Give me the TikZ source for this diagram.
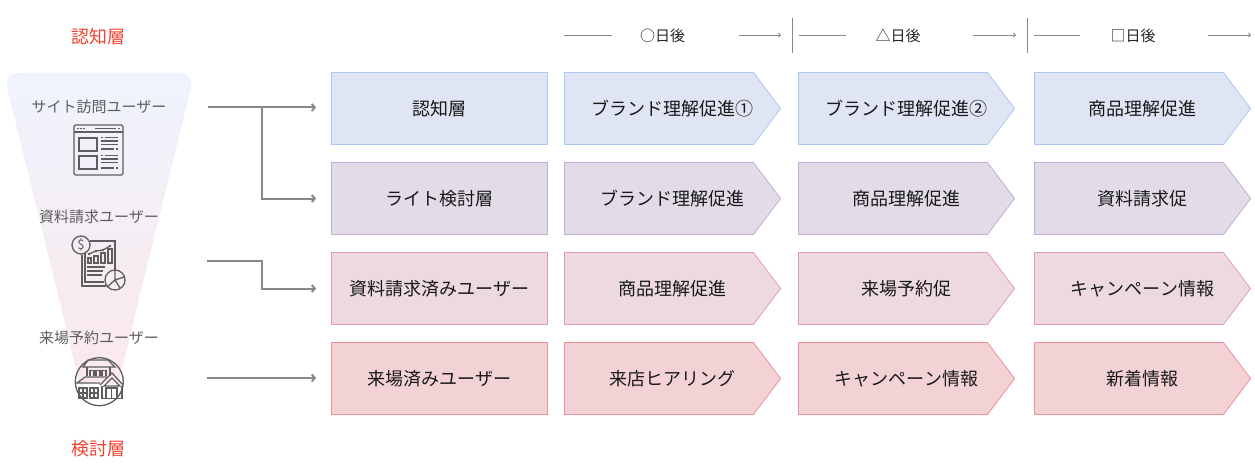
\documentclass[tikz,border=0pt]{standalone}
\usepackage{fontspec}
\setmainfont{Noto Sans CJK JP}
\usetikzlibrary{positioning,arrows.meta,shapes.symbols}

\definecolor{fillA}{HTML}{DFE5F3}
\definecolor{drawA}{HTML}{AEC6F6}
\definecolor{fillB}{HTML}{E2DCE8}
\definecolor{drawB}{HTML}{C3AED2}
\definecolor{fillC}{HTML}{ECDAE0}
\definecolor{drawC}{HTML}{E79DB0}
\definecolor{fillD}{HTML}{F3D2D6}
\definecolor{drawD}{HTML}{EE8F99}
\definecolor{funnelTop}{HTML}{EFF3FD}
\definecolor{funnelEnd}{HTML}{FBE8EB}
\definecolor{lineGray}{HTML}{888888}
\definecolor{iconGray}{HTML}{5E5E5E}
\definecolor{labelRed}{HTML}{EE4433}

\begin{document}
\begin{tikzpicture}[
		x=1pt, y=-1pt,
		plain/.style={rectangle, draw, line width=.8pt, minimum width=216pt, minimum height=72pt, inner sep=0pt, text centered, font=\fontsize{18}{20}\selectfont, text=black!90},
		tag/.style={signal, signal to=east, signal pointer angle=106, draw, line width=.8pt, minimum width=216pt, minimum height=72pt, inner sep=0pt, text centered, font=\fontsize{18}{20}\selectfont, text=black!90, execute at begin node=\hspace*{27pt}},
		rowA/.style={fill=fillA, draw=drawA},
		rowB/.style={fill=fillB, draw=drawB},
		rowC/.style={fill=fillC, draw=drawC},
		rowD/.style={fill=fillD, draw=drawD},
		layer/.style={text=labelRed, font=\fontsize{18}{20}\selectfont},
		user/.style={text=iconGray, font=\fontsize{15}{18}\selectfont},
		days/.style={text=black!85, font=\fontsize{15}{18}\selectfont},
		flow/.style={lineGray, line width=2pt, -{Straight Barb[length=3pt,width=7pt]}, shorten >=15pt},
		span/.style={lineGray, line width=.8pt},
		spanto/.style={span, -{Straight Barb[length=2pt,width=4pt]}},
		icon/.style={iconGray, line width=1.3pt}
]
\useasboundingbox (0,0) rectangle (1255,468);

% funnel
\shade [top color=funnelTop, bottom color=funnelEnd, rounded corners=15pt]
	(3.4,73) -- (194.7,73) -- (115,397) arc (0:-180:16) -- cycle;

\node [layer] (Top) at (98.5,36.5) {認知層};
\node [layer] (Bottom) at (98.5,449) {検討層};
\node [user] (UserA) at (99,107) {サイト訪問ユーザー};
\node [user] (UserB) at (99,217) {資料請求ユーザー};
\node [user] (UserC) at (99,338) {来場予約ユーザー};

% header
\node [days] (DayA) at (662.5,36) {○日後};
\node [days] (DayB) at (898,36) {△日後};
\node [days] (DayC) at (1133,36) {□日後};
\coordinate (StartA) at (564,35);
\coordinate (EndA) at (781,35);
\coordinate (StartB) at (799,35);
\coordinate (EndB) at (1016,35);
\coordinate (StartC) at (1034,35);
\coordinate (EndC) at (1251,35);
\draw [span] (StartA) -- (612,35);
\draw [spanto] (739,35) -- (EndA);
\draw [span] (StartB) -- (846,35);
\draw [spanto] (973,35) -- (EndB);
\draw [span] (StartC) -- (1080,35);
\draw [spanto] (1208,35) -- (EndC);
\coordinate (SplitA) at (792.5,18);
\coordinate (SplitB) at (1027.5,18);
\draw [span] (SplitA) -- (792.5,53);
\draw [span] (SplitB) -- (1027.5,53);

% rows
\node [plain, rowA] (Aware) at (439.5,108.5) {認知層};
\node [tag, rowA] (AwareA) at (659,108.5) {ブランド理解促進①};
\node [tag, rowA] (AwareB) at (893,108.5) {ブランド理解促進②};
\node [tag, rowA] (AwareC) at (1129,108.5) {商品理解促進};

\node [plain, rowB] (Light) at (439.5,198.5) {ライト検討層};
\node [tag, rowB] (LightA) at (659,198.5) {ブランド理解促進};
\node [tag, rowB] (LightB) at (893,198.5) {商品理解促進};
\node [tag, rowB] (LightC) at (1129,198.5) {資料請求促};

\node [plain, rowC] (Request) at (439.5,288.5) {資料請求済みユーザー};
\node [tag, rowC] (RequestA) at (659,288.5) {商品理解促進};
\node [tag, rowC] (RequestB) at (893,288.5) {来場予約促};
\node [tag, rowC] (RequestC) at (1129,288.5) {キャンペーン情報};

\node [plain, rowD] (Visit) at (439.5,378.5) {来場済みユーザー};
\node [tag, rowD] (VisitA) at (659,378.5) {来店ヒアリング};
\node [tag, rowD] (VisitB) at (893,378.5) {キャンペーン情報};
\node [tag, rowD] (VisitC) at (1129,378.5) {新着情報};

% connectors
\coordinate (FromA) at (208,107.5);
\coordinate (Branch) at (262,107.5);
\coordinate (FromC) at (207,260.5);
\coordinate (BendC) at (262,260.5);
\coordinate (FromD) at (207,378);
\draw [flow] (FromA) -- (Aware.west |- FromA);
\draw [flow] (Branch) |- (Light.west);
\draw [flow] (FromC) -- (BendC) |- (Request.west);
\draw [flow] (FromD) -- (Visit.west |- FromD);

% browser icon
\begin{scope}[icon]
	\draw [rounded corners=1.5pt] (74,125) rectangle (123,175);
	\draw (74,132) -- (123,132);
	\draw (77,128.5) -- (78.5,128.5) (80,128.5) -- (81.5,128.5) (83,128.5) -- (84.5,128.5) (95,128.5) -- (116,128.5) (118,128.5) -- (120,128.5);
	\draw (79,138) rectangle (97,151);
	\draw (79,156) rectangle (97,169);
	\draw (101,137.5) -- (102.5,137.5) (105,137.5) -- (118,137.5);
	\draw (101,141) -- (118,141);
	\draw (101,144.5) -- (118,144.5);
	\draw (101,149) -- (114,149) (116,149) -- (118,149);
	\draw (101,155.5) -- (102.5,155.5) (105,155.5) -- (118,155.5);
	\draw (101,159) -- (118,159);
	\draw (101,162.5) -- (118,162.5);
	\draw (101,168) -- (114,168) (116,168) -- (118,168);
\end{scope}

% report icon
\begin{scope}[icon]
	\draw (90,241) -- (115,241) -- (115,270);
	\draw (85,253) -- (85,282) -- (104,282);
	\draw (82,255) -- (82,286) -- (106,286);
	\draw (81,245) circle (9);
	\node [text=iconGray, inner sep=0pt, font=\fontsize{13}{13}\selectfont] (Dollar) at (81,245) {\$};
	\draw (88,263) -- (88,258) -- (91,258) -- (91,263) -- cycle;
	\draw (94,263) -- (94,256) -- (98,256) -- (98,263) -- cycle;
	\draw (101,263) -- (101,253) -- (105,253) -- (105,263) -- cycle;
	\draw (108,263) -- (108,249) -- (112,249) -- (112,263) -- cycle;
	\draw (89,254) -- (96,251) -- (103,250) -- (110,246);
	\fill [iconGray] (89,254) circle (1.3) (96,251) circle (1.3) (103,250) circle (1.3) (110,246) circle (1.3);
	\draw (87,267) -- (105,267);
	\draw (87,271) -- (103,271);
	\draw (87,275) -- (102,275);
	\draw [fill=fillC!40!white] (115,280) circle (10);
	\draw (115,270) -- (115,280) -- (124,277) (115,280) -- (107,287) (115,280) -- (120,288);
\end{scope}

% house icon
\begin{scope}[icon]
	\draw (99.3,381.7) circle (24);
	\draw (83,367) -- (115,367) -- (108,360) -- (88,360) -- cycle;
	\draw (87,367) -- (87,376) (110,367) -- (110,376);
	\draw (90,376) -- (90,370.5) -- (94,370.5) -- (94,376) (96,376) -- (96,370.5) -- (100,370.5) -- (100,376) (102,376) -- (102,370.5) -- (106,370.5) -- (106,376);
	\draw (77,383) -- (85,377) -- (107,377) (75.5,383) -- (100,383);
	\draw (100,385) -- (112,373) -- (123,385);
	\draw (104,386) -- (112,378) -- (120,386) -- cycle;
	\draw (102,386) -- (102,398.5) -- (122,398.5) -- (122,386);
	\draw (106,398.5) -- (106,388) -- (117,388) -- (117,398.5);
	\draw (111.5,388) -- (111.5,398.5);
	\draw (79,388) rectangle (87,398);
	\draw (90,388) rectangle (98,398);
	\draw (83,388) -- (83,398) (94,388) -- (94,398) (79,393) -- (87,393) (90,393) -- (98,393);
\end{scope}

\end{tikzpicture}
\end{document}
